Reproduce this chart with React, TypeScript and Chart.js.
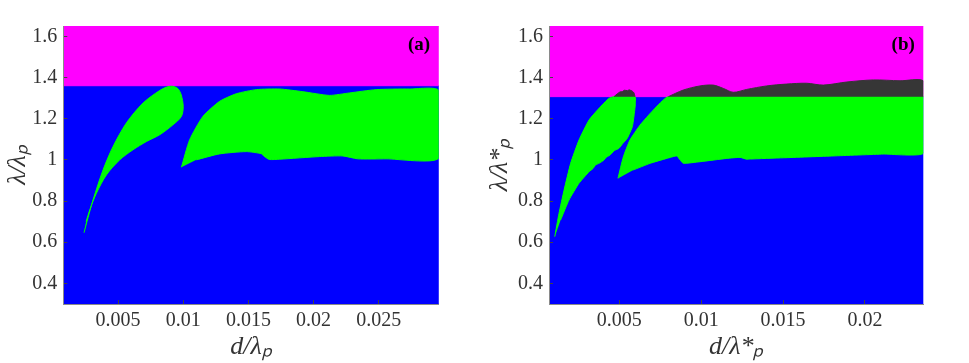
import React, { useEffect, useRef } from 'react';
import { Chart, registerables } from 'chart.js';

Chart.register(...registerables);
Chart.defaults.font.family = '"Liberation Serif", "Times New Roman", serif';

const BLUE = '#0000FF';
const MAGENTA = '#FF00FF';
const GREEN = '#00FF00';
const GRAY = '#363636';
const TEXT = '#333333';

// ---------- shared ----------
const Y_MIN = 0.3;
const Y_MAX = 1.65;
const Y_TICKS = [0.4, 0.6, 0.8, 1, 1.2, 1.4, 1.6];

// ---------- panel (a) ----------
const A_X_MIN = 0.0008;
const A_X_MAX = 0.0296;
const A_X_TICKS = [0.005, 0.01, 0.015, 0.02, 0.025];
const A_THRESHOLD = 1.36;

// teardrop-shaped green region (outline, going up the left edge, back down the right)
const A_TEAR_X = [0.00239, 0.00270, 0.00308, 0.00385, 0.00462, 0.00564, 0.00692, 0.0082, 0.00880, 0.00921, 0.00960, 0.00985, 0.0100, 0.00986, 0.00921, 0.0082, 0.00718, 0.00615, 0.00513, 0.00411, 0.00334, 0.00283, 0.00255];
const A_TEAR_Y = [0.646, 0.720, 0.805, 0.951, 1.065, 1.179, 1.276, 1.337, 1.355, 1.357, 1.345, 1.315, 1.259, 1.211, 1.170, 1.122, 1.089, 1.049, 1.000, 0.927, 0.838, 0.757, 0.700];

// large green region (tip -> upper edge -> right edge -> lower edge back)
const A_BAND_X = [0.00986, 0.01049, 0.01151, 0.01279, 0.01407, 0.01561, 0.01739, 0.01918, 0.02122, 0.02276, 0.0248, 0.02735, 0.0296, 0.0296, 0.02556, 0.02339, 0.02224, 0.02046, 0.01739, 0.0166, 0.0162, 0.01599, 0.01484, 0.01279, 0.01101];
const A_BAND_Y = [0.964, 1.097, 1.211, 1.284, 1.321, 1.341, 1.344, 1.331, 1.313, 1.325, 1.341, 1.344, 1.337, 1.008, 1.005, 1.005, 1.019, 1.016, 1.003, 1.002, 1.018, 1.030, 1.040, 1.029, 1.000];

// ---------- panel (b) ----------
const B_X_MIN = 0.00071;
const B_X_MAX = 0.02356;
const B_X_TICKS = [0.005, 0.01, 0.015, 0.02];
const B_THRESHOLD = 1.307;

const B_LEFT_X = [0.00106, 0.00132, 0.00163, 0.00203, 0.00254, 0.00315, 0.00376, 0.00437, 0.00468, 0.00596, 0.00598, 0.00592, 0.0058, 0.00549, 0.00520, 0.00498, 0.00470, 0.00452, 0.00437, 0.00420, 0.00405, 0.00376, 0.00355, 0.00340, 0.00315, 0.00254, 0.00193, 0.00142];
const B_LEFT_Y = [0.627, 0.740, 0.853, 0.983, 1.096, 1.193, 1.250, 1.299, 1.307, 1.307, 1.270, 1.226, 1.161, 1.105, 1.078, 1.056, 1.045, 1.030, 1.020, 1.012, 0.998, 0.983, 0.975, 0.958, 0.942, 0.886, 0.805, 0.708];

const B_BAND_X = [0.00492, 0.00525, 0.00565, 0.00627, 0.00708, 0.0080, 0.02356, 0.02356, 0.02112, 0.01807, 0.01501, 0.01300, 0.01278, 0.01237, 0.01156, 0.00993, 0.00891, 0.00871, 0.00851, 0.0079, 0.00688, 0.00586];
const B_BAND_Y = [0.910, 1.015, 1.096, 1.169, 1.242, 1.307, 1.307, 1.032, 1.028, 1.019, 1.010, 1.004, 1.003, 1.012, 1.007, 0.991, 0.983, 1.000, 1.019, 1.007, 0.983, 0.951];

// dark grey regions above the threshold
const B_GRAY1_X = [0.00468, 0.0049, 0.00505, 0.0052, 0.0053, 0.0055, 0.0056, 0.0058, 0.0059, 0.00596];
const B_GRAY1_Y = [1.307, 1.322, 1.330, 1.332, 1.338, 1.336, 1.340, 1.333, 1.325, 1.307];
const B_GRAY2_X = [0.0080, 0.00891, 0.00993, 0.01074, 0.01135, 0.01196, 0.01278, 0.0140, 0.01522, 0.01644, 0.01746, 0.01889, 0.02051, 0.02214, 0.02356, 0.02356];
const B_GRAY2_Y = [1.307, 1.339, 1.359, 1.363, 1.347, 1.328, 1.342, 1.359, 1.368, 1.372, 1.363, 1.378, 1.388, 1.384, 1.384, 1.307];

function zip(xs: number[], ys: number[]) {
  return xs.map((x, i) => ({ x, y: ys[i] }));
}
function rect(x0: number, x1: number, y0: number, y1: number) {
  return zip([x0, x1, x1, x0], [y0, y0, y1, y1]);
}
function shape(label: string, data: any[], color: string, order: number, tension = 0) {
  return {
    label,
    data,
    backgroundColor: color,
    borderColor: color,
    borderWidth: 1,
    pointRadius: 0,
    fill: 'shape',
    tension,
    order,
  };
}
const fmt = (v: number) => String(Number(Number(v).toFixed(4)));

function makeConfig(p: {
  xMin: number; xMax: number; xTicks: number[]; datasets: any[];
  yWidth: number; rightPad: number; yTitle: string; xTitle: string; yTitlePad: number; label: string;
}) {
  const tickFont = { size: 20, family: '"Liberation Serif", serif' };
  const titleFont = { size: 26, style: 'italic' as const, family: '"Liberation Serif", serif' };
  return {
    type: 'line' as const,
    data: { datasets: p.datasets },
    options: {
      responsive: false,
      animation: false as const,
      events: [],
      layout: { padding: { top: 26, right: p.rightPad, left: 0, bottom: 0 } },
      plugins: { legend: { display: false }, tooltip: { enabled: false } },
      scales: {
        x: {
          type: 'linear' as const,
          min: p.xMin,
          max: p.xMax,
          afterBuildTicks: (s: any) => { s.ticks = p.xTicks.map((v) => ({ value: v })); },
          afterFit: (s: any) => { s.height = 59; },
          grid: { display: true, drawOnChartArea: false, drawTicks: true, tickLength: -4, color: '#444', z: 1 },
          border: { display: true, color: '#8a8a8a', z: 1 },
          ticks: { font: tickFont, color: TEXT, padding: 9, maxRotation: 0, autoSkip: false, callback: (v: any) => fmt(v) },
          title: { display: true, text: p.xTitle, font: titleFont, color: TEXT, padding: { top: 0, bottom: 0 } },
        },
        y: {
          type: 'linear' as const,
          min: Y_MIN,
          max: Y_MAX,
          afterBuildTicks: (s: any) => { s.ticks = Y_TICKS.map((v) => ({ value: v })); },
          afterFit: (s: any) => { s.width = p.yWidth; },
          grid: { display: true, drawOnChartArea: false, drawTicks: true, tickLength: -4, color: '#444', z: 1 },
          border: { display: true, color: '#8a8a8a', z: 1 },
          ticks: { font: tickFont, color: TEXT, padding: 10, autoSkip: false, callback: (v: any) => fmt(v) },
          title: { display: true, text: p.yTitle, font: titleFont, color: TEXT, padding: { top: p.yTitlePad, bottom: 0 } },
        },
      },
    },
    plugins: [
      {
        id: 'panelLabel',
        afterDraw(chart: any) {
          const { ctx, chartArea } = chart;
          ctx.save();
          ctx.font = 'bold 19px "Liberation Serif", serif';
          ctx.fillStyle = '#000';
          ctx.textAlign = 'right';
          ctx.textBaseline = 'middle';
          ctx.fillText(p.label, chartArea.right - 8.5, chartArea.top + 19.5);
          ctx.restore();
        },
      },
    ],
  };
}

function Panel({ cfg, width, left }: { cfg: any; width: number; left: number }) {
  const ref = useRef<HTMLCanvasElement | null>(null);
  useEffect(() => {
    if (!ref.current) return;
    const chart = new Chart(ref.current, cfg);
    return () => chart.destroy();
  }, [cfg]);
  return (
    <canvas
      ref={ref}
      width={width}
      height={363}
      style={{ position: 'absolute', left, top: 0, width, height: 363 }}
    />
  );
}

const cfgA = makeConfig({
  xMin: A_X_MIN,
  xMax: A_X_MAX,
  xTicks: A_X_TICKS,
  yWidth: 63.3,
  rightPad: 41.3,
  yTitle: 'λ/λₚ',
  xTitle: 'd/λₚ',
  yTitlePad: 3,
  label: '(a)',
  datasets: [
    shape('tear', zip(A_TEAR_X, A_TEAR_Y), GREEN, 1, 0.3),
    shape('band', zip(A_BAND_X, A_BAND_Y), GREEN, 2, 0.2),
    shape('upper', rect(A_X_MIN, A_X_MAX, A_THRESHOLD, Y_MAX), MAGENTA, 9),
    shape('lower', rect(A_X_MIN, A_X_MAX, Y_MIN, A_THRESHOLD), BLUE, 10),
  ],
});

const cfgB = makeConfig({
  xMin: B_X_MIN,
  xMax: B_X_MAX,
  xTicks: B_X_TICKS,
  yWidth: 69,
  rightPad: 45.7,
  yTitle: 'λ/λ*ₚ',
  xTitle: 'd/λ*ₚ',
  yTitlePad: 5,
  label: '(b)',
  datasets: [
    shape('gray1', zip(B_GRAY1_X, B_GRAY1_Y), GRAY, 1, 0.2),
    shape('gray2', zip(B_GRAY2_X, B_GRAY2_Y), GRAY, 1, 0.3),
    shape('left', zip(B_LEFT_X, B_LEFT_Y), GREEN, 3, 0.15),
    shape('band', zip(B_BAND_X, B_BAND_Y), GREEN, 3, 0.15),
    shape('upper', rect(B_X_MIN, B_X_MAX, B_THRESHOLD, Y_MAX), MAGENTA, 9),
    shape('lower', rect(B_X_MIN, B_X_MAX, Y_MIN, B_THRESHOLD), BLUE, 10),
  ],
});

export default function App() {
  return (
    <div style={{ position: 'fixed', left: 0, top: 0, width: 969, height: 363, background: '#fff' }}>
      <Panel cfg={cfgA} width={480} left={0} />
      <Panel cfg={cfgB} width={489} left={480} />
    </div>
  );
}
